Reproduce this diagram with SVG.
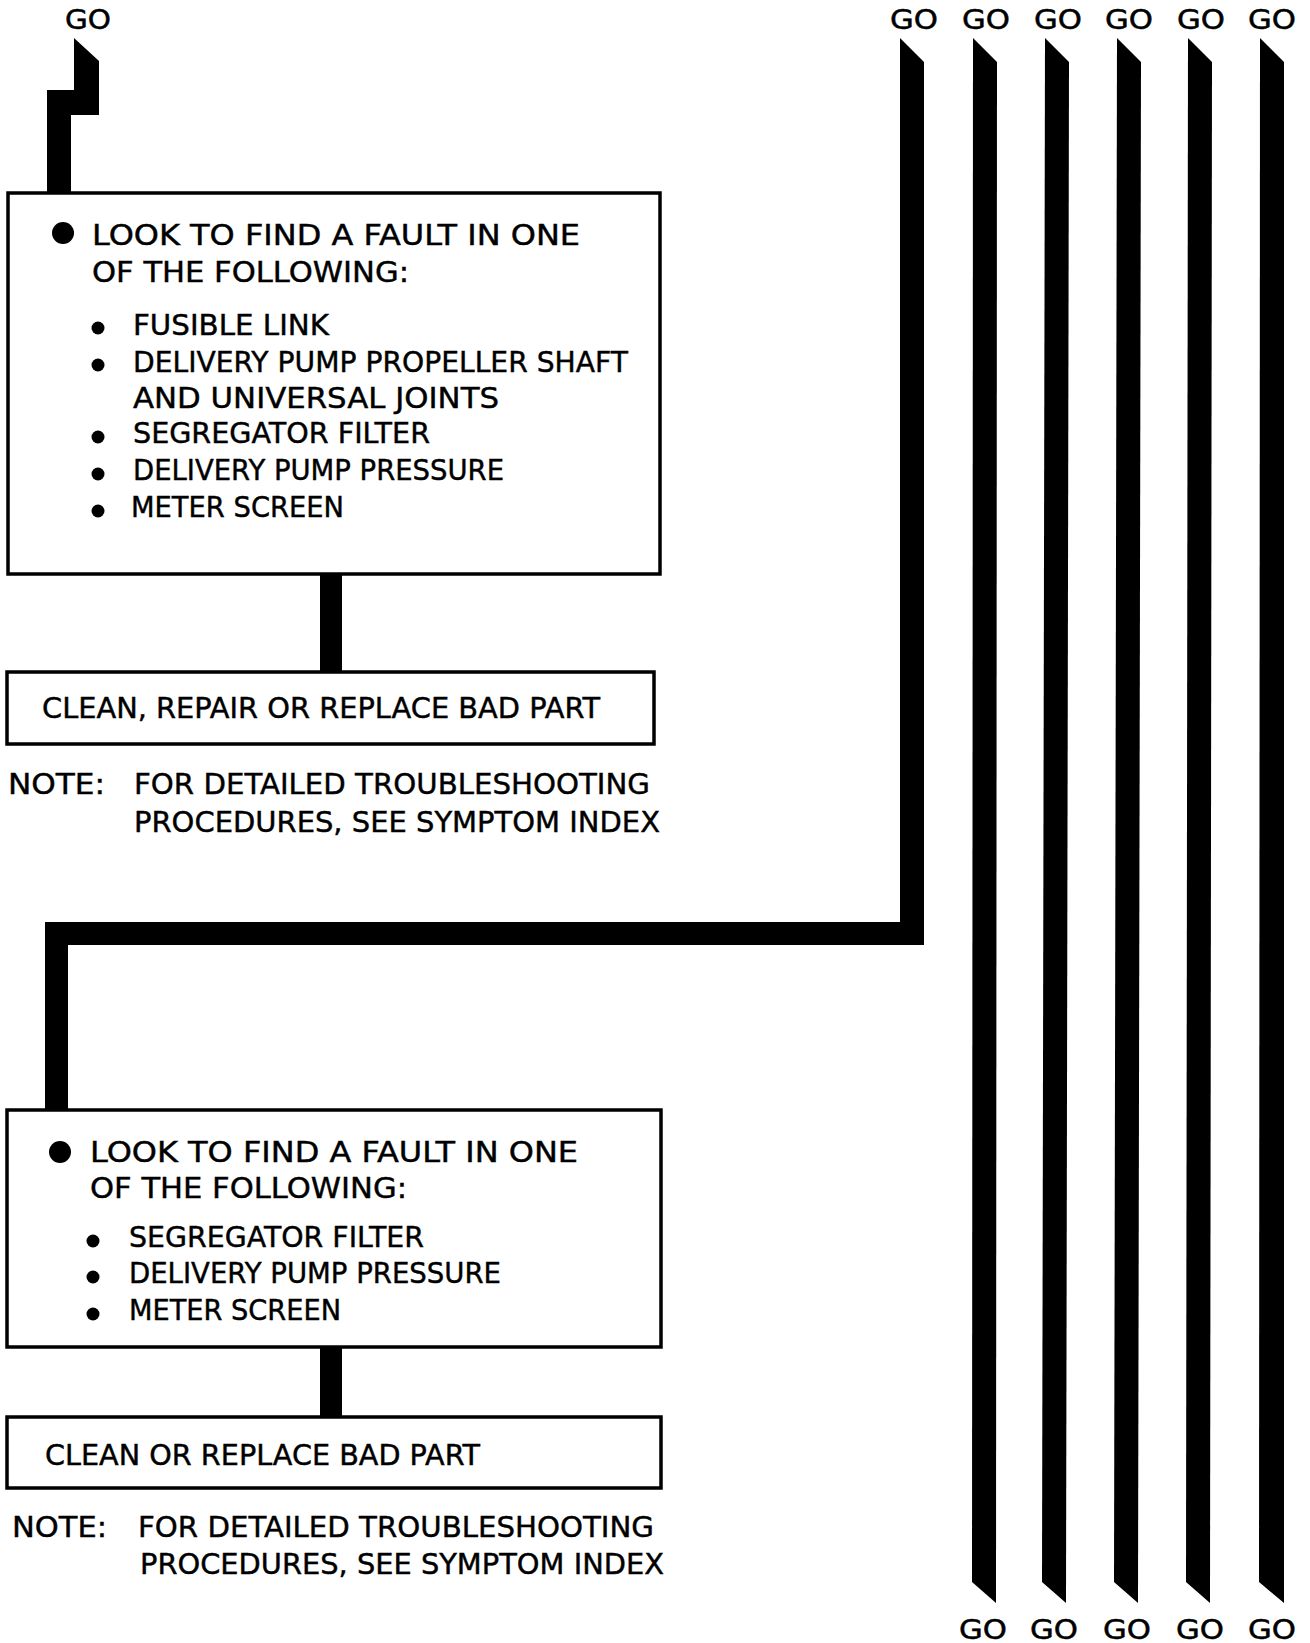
<svg xmlns="http://www.w3.org/2000/svg" width="1310" height="1643" viewBox="0 0 1310 1643">
<style>
.t{font-family:"DejaVu Sans","Liberation Sans",sans-serif;font-size:29px;fill:#000;stroke:#000;stroke-width:0.45}
.go{font-family:"DejaVu Sans","Liberation Sans",sans-serif;font-size:27px;fill:#000;stroke:#000;stroke-width:0.5;text-anchor:middle}
.box{fill:#fff;stroke:#000;stroke-width:3.5}
.bar{fill:#000}
</style>
<rect width="1310" height="1643" fill="#fff"/>
<g id="connectors">
  <polygon class="bar" points="74,38 99,61 99,115 71,115 71,193 47,193 47,90 74,90"/>
  <rect class="bar" x="320" y="574" width="22" height="98"/>
  <polygon class="bar" points="900,38 924,62 924,945 68,945 68,1110 45,1110 45,922 900,922"/>
  <rect class="bar" x="320" y="1346" width="22" height="71"/>
  <polygon class="bar" points="973,38 997,62 996,1603 972,1582"/>
  <polygon class="bar" points="1045,38 1069,62 1066,1603 1042,1582"/>
  <polygon class="bar" points="1117,38 1141,62 1138,1603 1114,1582"/>
  <polygon class="bar" points="1188,38 1212,62 1210,1603 1186,1582"/>
  <polygon class="bar" points="1260,38 1284,62 1284,1603 1259,1582"/>
</g>
<g id="go-labels-top">
  <text class="go" x="88" y="29" textLength="46" lengthAdjust="spacingAndGlyphs">GO</text>
  <text class="go" x="914" y="29" textLength="48" lengthAdjust="spacingAndGlyphs">GO</text>
  <text class="go" x="986" y="29" textLength="48" lengthAdjust="spacingAndGlyphs">GO</text>
  <text class="go" x="1058" y="29" textLength="48" lengthAdjust="spacingAndGlyphs">GO</text>
  <text class="go" x="1129" y="29" textLength="48" lengthAdjust="spacingAndGlyphs">GO</text>
  <text class="go" x="1201" y="29" textLength="48" lengthAdjust="spacingAndGlyphs">GO</text>
  <text class="go" x="1272" y="29" textLength="48" lengthAdjust="spacingAndGlyphs">GO</text>
</g>
<g id="go-labels-bottom">
  <text class="go" x="983" y="1639" textLength="48" lengthAdjust="spacingAndGlyphs">GO</text>
  <text class="go" x="1054" y="1639" textLength="48" lengthAdjust="spacingAndGlyphs">GO</text>
  <text class="go" x="1127" y="1639" textLength="48" lengthAdjust="spacingAndGlyphs">GO</text>
  <text class="go" x="1200" y="1639" textLength="48" lengthAdjust="spacingAndGlyphs">GO</text>
  <text class="go" x="1272" y="1639" textLength="48" lengthAdjust="spacingAndGlyphs">GO</text>
</g>
<g id="box1">
  <rect class="box" x="8" y="193" width="652" height="381"/>
  <circle cx="63" cy="233" r="11"/>
  <text class="t" x="92" y="245" textLength="488" lengthAdjust="spacingAndGlyphs">LOOK TO FIND A FAULT IN ONE</text>
  <text class="t" x="92" y="282" textLength="317" lengthAdjust="spacingAndGlyphs">OF THE FOLLOWING:</text>
  <circle cx="98" cy="328" r="6.5"/>
  <text class="t" x="133" y="335" textLength="196" lengthAdjust="spacingAndGlyphs">FUSIBLE LINK</text>
  <circle cx="98" cy="365" r="6.5"/>
  <text class="t" x="133" y="372" textLength="495" lengthAdjust="spacingAndGlyphs">DELIVERY PUMP PROPELLER SHAFT</text>
  <text class="t" x="133" y="408" textLength="366" lengthAdjust="spacingAndGlyphs">AND UNIVERSAL JOINTS</text>
  <circle cx="98" cy="437" r="6.5"/>
  <text class="t" x="133" y="443" textLength="297" lengthAdjust="spacingAndGlyphs">SEGREGATOR FILTER</text>
  <circle cx="98" cy="474" r="6.5"/>
  <text class="t" x="133" y="480" textLength="371" lengthAdjust="spacingAndGlyphs">DELIVERY PUMP PRESSURE</text>
  <circle cx="98" cy="511" r="6.5"/>
  <text class="t" x="131" y="517" textLength="213" lengthAdjust="spacingAndGlyphs">METER SCREEN</text>
</g>
<g id="box2">
  <rect class="box" x="7" y="672" width="647" height="72"/>
  <text class="t" x="42" y="718" textLength="558" lengthAdjust="spacingAndGlyphs">CLEAN, REPAIR OR REPLACE BAD PART</text>
</g>
<g id="note1">
  <text class="t" x="8" y="794" textLength="97" lengthAdjust="spacingAndGlyphs">NOTE:</text>
  <text class="t" x="134" y="794" textLength="516" lengthAdjust="spacingAndGlyphs">FOR DETAILED TROUBLESHOOTING</text>
  <text class="t" x="134" y="832" textLength="526" lengthAdjust="spacingAndGlyphs">PROCEDURES, SEE SYMPTOM INDEX</text>
</g>
<g id="box3">
  <rect class="box" x="7" y="1110" width="654" height="237"/>
  <circle cx="60" cy="1152" r="11"/>
  <text class="t" x="90" y="1162" textLength="488" lengthAdjust="spacingAndGlyphs">LOOK TO FIND A FAULT IN ONE</text>
  <text class="t" x="90" y="1198" textLength="317" lengthAdjust="spacingAndGlyphs">OF THE FOLLOWING:</text>
  <circle cx="93" cy="1241" r="6.5"/>
  <text class="t" x="129" y="1247" textLength="295" lengthAdjust="spacingAndGlyphs">SEGREGATOR FILTER</text>
  <circle cx="93" cy="1277" r="6.5"/>
  <text class="t" x="129" y="1283" textLength="372" lengthAdjust="spacingAndGlyphs">DELIVERY PUMP PRESSURE</text>
  <circle cx="93" cy="1314" r="6.5"/>
  <text class="t" x="129" y="1320" textLength="212" lengthAdjust="spacingAndGlyphs">METER SCREEN</text>
</g>
<g id="box4">
  <rect class="box" x="7" y="1417" width="654" height="71"/>
  <text class="t" x="45" y="1465" textLength="435" lengthAdjust="spacingAndGlyphs">CLEAN OR REPLACE BAD PART</text>
</g>
<g id="note2">
  <text class="t" x="12" y="1537" textLength="95" lengthAdjust="spacingAndGlyphs">NOTE:</text>
  <text class="t" x="138" y="1537" textLength="516" lengthAdjust="spacingAndGlyphs">FOR DETAILED TROUBLESHOOTING</text>
  <text class="t" x="140" y="1574" textLength="524" lengthAdjust="spacingAndGlyphs">PROCEDURES, SEE SYMPTOM INDEX</text>
</g>
</svg>
